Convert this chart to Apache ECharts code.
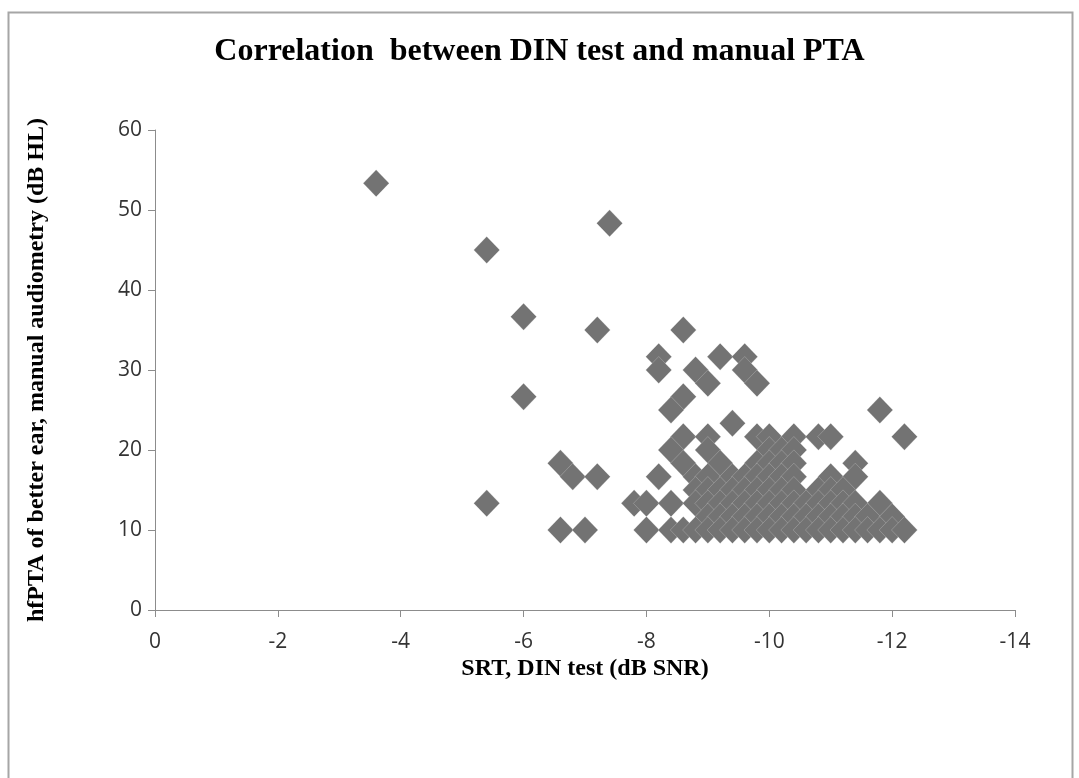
<!DOCTYPE html>
<html>
<head>
<meta charset="utf-8">
<script src="https://cdn.jsdelivr.net/npm/echarts@6/dist/echarts.min.js"></script>
<style>html,body{margin:0;padding:0;background:#fff}#c{width:1079px;height:778px}</style>
</head>
<body>
<div id="c"></div>
<script>
const titleText = 'Correlation  between DIN test and manual PTA';
const xName = 'SRT, DIN test (dB SNR)';
const yName = 'hfPTA of better ear, manual audiometry (dB HL)';
const xTicks = [0, -2, -4, -6, -8, -10, -12, -14];
const yTicks = [0, 10, 20, 30, 40, 50, 60];

// scattered points [SRT, hfPTA]
const isolated = [
  [-3.6,53.33],[-5.4,45],[-7.4,48.33],[-6,36.67],[-7.2,35],[-6,26.67],[-5.4,13.33],
  [-6.6,18.33],[-6.8,16.67],[-7.2,16.67],[-6.6,10],[-7,10],[-7.8,13.33],[-8,13.33],[-8,10],
  [-8.2,31.67],[-8.2,30],[-8.6,35],[-8.8,30],[-9,28.33],[-8.6,26.67],[-8.4,25],
  [-9.2,31.67],[-9.6,31.67],[-9.6,30],[-9.8,28.33],[-9.4,23.33],[-11.8,25],[-12.2,21.67],
  [-8.2,16.67],[-11.8,13.33]
];
// dense cluster rows: hfPTA level and SRT values
const row21_67 = [-8.6,-9.0,-9.8,-10.0,-10.4,-10.8,-11.0];
const row20 = [-8.4,-9.0,-10.0,-10.2,-10.4];
const row18_33 = [-8.6,-9.2,-9.8,-10.0,-10.2,-10.4,-11.4];
const row16_67 = [-8.8,-9.0,-9.4,-9.6,-9.8,-10.0,-10.2,-10.4,-11.0,-11.4];
const row15 = [-8.8,-9.0,-9.2,-9.4,-9.6,-9.8,-10.0,-10.2,-10.4,-10.8,-11.0,-11.2];
const row13_33 = [-8.4,-8.8,-9.0,-9.2,-9.4,-9.6,-9.8,-10.0,-10.2,-10.4,-10.6,-10.8,-11.0,-11.2,-11.4];
const row11_67 = [-9.0,-9.2,-9.4,-9.6,-9.8,-10.0,-10.2,-10.4,-10.6,-10.8,-11.0,-11.2,-11.4,-11.6,-12.0];
const row10 = [-8.4,-8.6,-8.8,-9.0,-9.2,-9.4,-9.6,-9.8,-10.0,-10.2,-10.4,-10.6,-10.8,-11.0,-11.2,-11.4,-11.6,-11.8,-12.0,-12.2];

const rows = [[21.67,row21_67],[20,row20],[18.33,row18_33],[16.67,row16_67],[15,row15],[13.33,row13_33],[11.67,row11_67],[10,row10]];
const data = isolated.slice();
rows.forEach(([y, xs]) => xs.forEach(x => data.push([x, y])));

const chart = echarts.init(document.getElementById('c'));
chart.setOption({
  backgroundColor: '#fff',
  animation: false,
  title: {
    text: titleText, left: 'center', top: 31,
    textStyle: { fontFamily: 'Liberation Serif', fontWeight: 'bold', fontSize: 32, color: '#000' }
  },
  graphic: [{
    type: 'polyline', silent: true,
    shape: { points: [[8.5, 778], [8.5, 12.5], [1072.5, 12.5], [1072.5, 778]] },
    style: { stroke: '#a6a6a6', lineWidth: 2, fill: null }
  }],
  grid: { left: 155, right: 64, top: 130, bottom: 168 },
  xAxis: {
    type: 'value', inverse: true, min: -14, max: 0, interval: 2,
    name: xName, nameLocation: 'middle', nameGap: 47, nameMoveOverlap: false,
    nameTextStyle: { fontFamily: 'Liberation Serif', fontWeight: 'bold', fontSize: 24, color: '#000' },
    axisLine: { show: true, lineStyle: { color: '#8c8c8c', width: 1 } },
    axisTick: { show: true, length: 7, inside: false, lineStyle: { color: '#8c8c8c' } },
    axisLabel: { fontFamily: 'Open Sans', fontSize: 21, color: '#333', margin: 22,
      formatter: v => xTicks.includes(v) ? String(v) : '' },
    splitLine: { show: false }
  },
  yAxis: {
    type: 'value', min: 0, max: 60, interval: 10,
    name: yName, nameLocation: 'middle', nameGap: 106, nameRotate: 90, nameMoveOverlap: false,
    nameTextStyle: { fontFamily: 'Liberation Serif', fontWeight: 'bold', fontSize: 24, color: '#000' },
    axisLine: { show: true, lineStyle: { color: '#8c8c8c', width: 1 } },
    axisTick: { show: true, length: 7, lineStyle: { color: '#8c8c8c' } },
    axisLabel: { fontFamily: 'Open Sans', fontSize: 21, color: '#333', margin: 13,
      formatter: v => yTicks.includes(v) ? String(v) : '' },
    splitLine: { show: false }
  },
  series: [{
    type: 'scatter',
    symbol: 'diamond',
    symbolSize: [26, 27],
    data: data,
    itemStyle: { color: '#737373', opacity: 1, borderColor: 'rgba(255,255,255,0.35)', borderWidth: 0.6 }
  }]
});
</script>
</body>
</html>
